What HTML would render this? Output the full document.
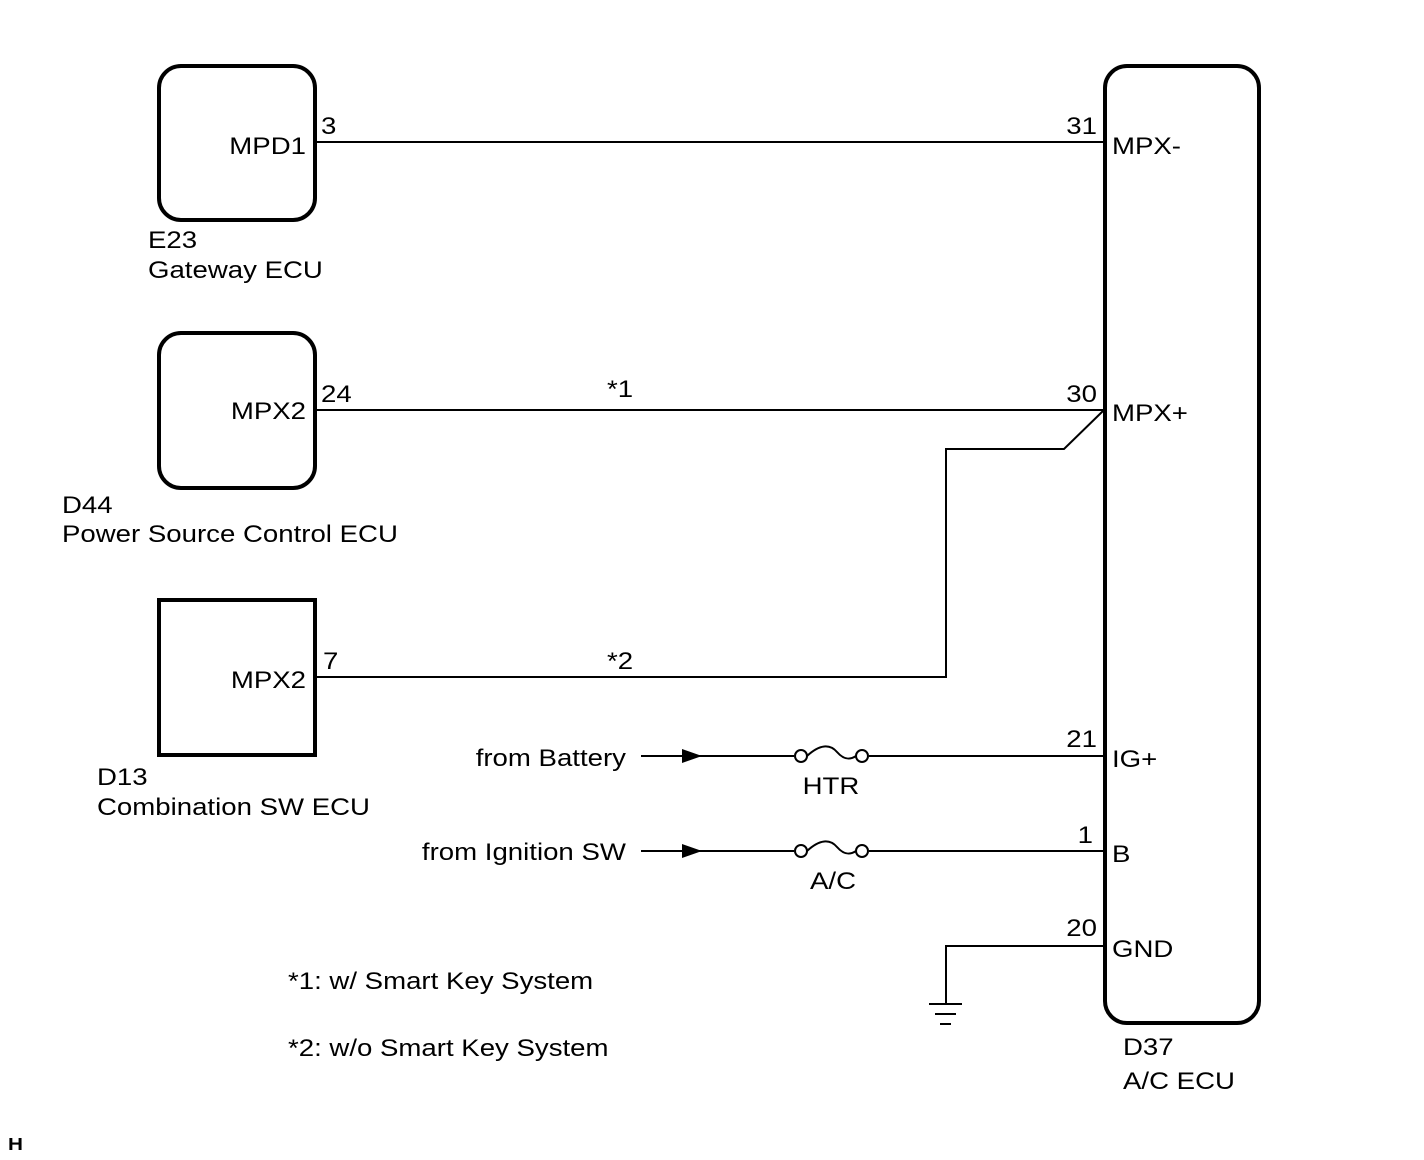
<!DOCTYPE html>
<html><head><meta charset="utf-8"><style>
html,body{margin:0;padding:0;background:#fff;}
svg{display:block;}
text{font-family:"Liberation Sans",Arial,sans-serif;font-size:24px;fill:#000;transform-box:fill-box;transform-origin:left center;transform:scaleX(1.15);}
text.e{transform-origin:right center;}
text.m{transform-origin:center center;}
</style></head><body>
<svg width="1424" height="1160" viewBox="0 0 1424 1160" xmlns="http://www.w3.org/2000/svg">
<g fill="none" stroke="#000">
<rect x="159" y="66" width="156" height="154" rx="22" stroke-width="4"/>
<rect x="159" y="333" width="156" height="155" rx="22" stroke-width="4"/>
<rect x="159" y="600" width="156" height="155" stroke-width="4"/>
<rect x="1105" y="66" width="154" height="957" rx="22" stroke-width="4"/>
<g stroke-width="2">
<line x1="316" y1="142" x2="1104" y2="142"/>
<line x1="316" y1="410" x2="1104" y2="410"/>
<polyline points="316,677 946,677 946,449 1064,449 1104,410"/>
<line x1="641" y1="756" x2="794" y2="756"/>
<line x1="869" y1="756" x2="1104" y2="756"/>
<circle cx="801" cy="756" r="6"/><circle cx="862" cy="756" r="6"/>
<path d="M807,756 C820,744 830,744 837,752 C844,760 850,760 856,756"/>
<line x1="641" y1="851" x2="794" y2="851"/>
<line x1="869" y1="851" x2="1104" y2="851"/>
<circle cx="801" cy="851" r="6"/><circle cx="862" cy="851" r="6"/>
<path d="M807,851 C820,839 830,839 837,847 C844,855 850,855 856,851"/>
<polyline points="1104,946 946,946 946,1003"/>
<line x1="929" y1="1004" x2="962" y2="1004"/>
<line x1="935" y1="1014" x2="956" y2="1014"/>
<line x1="940" y1="1024" x2="951" y2="1024"/>
</g>
</g>
<polygon points="682,749 702,756 682,763" fill="#000"/>
<polygon points="682,844 702,851 682,858" fill="#000"/>
<text class="e" x="306" y="154" text-anchor="end">MPD1</text>
<text x="321" y="134">3</text>
<text x="148" y="248">E23</text>
<text x="148" y="278">Gateway ECU</text>
<text class="e" x="306" y="419" text-anchor="end">MPX2</text>
<text x="321" y="402">24</text>
<text x="62" y="513">D44</text>
<text x="62" y="542">Power Source Control ECU</text>
<text class="e" x="306" y="688" text-anchor="end">MPX2</text>
<text x="323" y="669">7</text>
<text x="97" y="785">D13</text>
<text x="97" y="815">Combination SW ECU</text>
<text x="607" y="397">*1</text>
<text x="607" y="669">*2</text>
<text class="e" x="1097" y="134" text-anchor="end">31</text>
<text class="e" x="1097" y="402" text-anchor="end">30</text>
<text class="e" x="1097" y="747" text-anchor="end">21</text>
<text class="e" x="1093" y="843" text-anchor="end">1</text>
<text class="e" x="1097" y="936" text-anchor="end">20</text>
<text x="1112" y="154">MPX-</text>
<text x="1112" y="421">MPX+</text>
<text x="1112" y="767">IG+</text>
<text x="1112" y="862">B</text>
<text x="1112" y="957">GND</text>
<text class="e" x="626" y="766" text-anchor="end">from Battery</text>
<text class="e" x="626" y="860" text-anchor="end">from Ignition SW</text>
<text class="m" x="831" y="794" text-anchor="middle">HTR</text>
<text class="m" x="833" y="889" text-anchor="middle">A/C</text>
<text x="288" y="989">*1: w/ Smart Key System</text>
<text x="288" y="1056">*2: w/o Smart Key System</text>
<text x="1123" y="1055">D37</text>
<text x="1123" y="1089">A/C ECU</text>
<text x="8" y="1150" style="font-size:18px;font-weight:bold">H</text>
</svg>
</body></html>
